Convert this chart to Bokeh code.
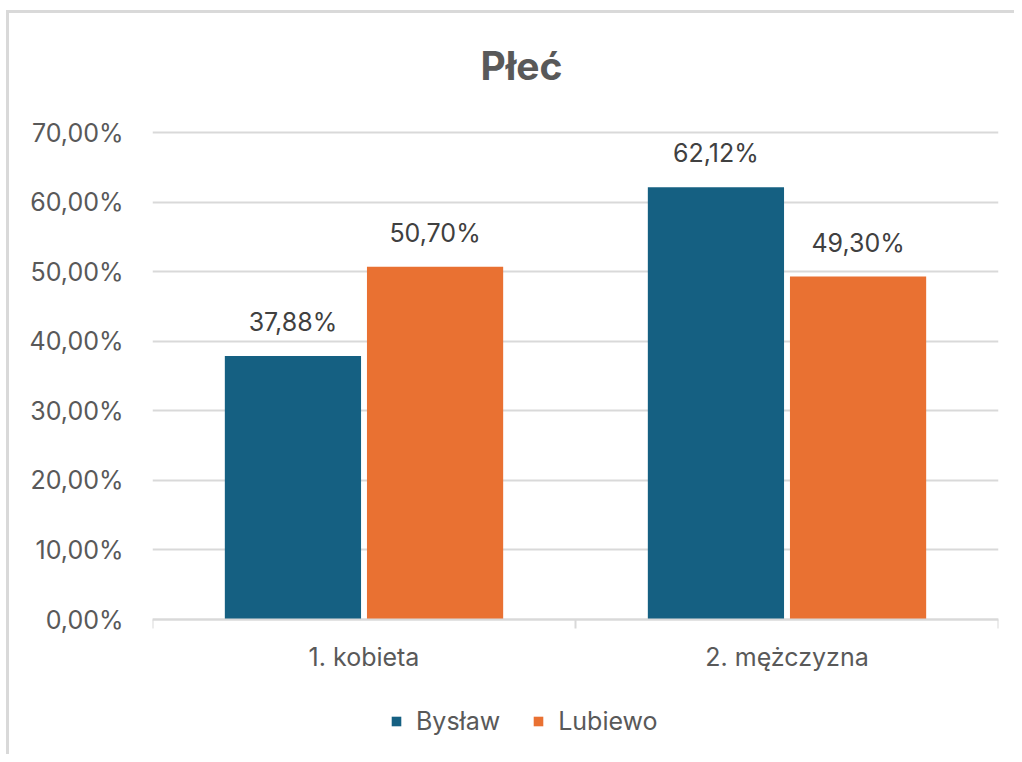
from bokeh.plotting import figure
from bokeh.models import (Range1d, FixedTicker, LinearAxis, ColumnDataSource, LabelSet,
                          Title, Legend, LegendItem, Grid)
from bokeh.transform import dodge
from bokeh.core.properties import value
from bokeh.embed import file_html
from bokeh.resources import INLINE

# ---- data ----
title = "Płeć"
categories = ["1. kobieta", "2. mężczyzna"]
series_names = ["Bysław", "Lubiewo"]
byslaw = [37.88, 62.12]
lubiewo = [50.70, 49.30]
y_ticks = [0, 10, 20, 30, 40, 50, 60, 70]
colors = ["#156082", "#E97132"]


def pct(v):
    return f"{v:.2f}".replace(".", ",") + "%"


FONT = "Inter"
FS = "25px"
TXT = "#595959"
GRID = "#d9d9d9"

# ---- layout constants (pixels) ----
W, H = 1014, 754
LEFT, RIGHT = 152, 16
TOP_TICK_Y = 132                  # pixel row of the 70 % gridline
FRAME_TOP = 128                   # frame a little above it so the top gridline is drawn
ZERO_Y = 619                      # pixel row of the 0 % baseline
px_per_unit = (ZERO_Y - TOP_TICK_Y) / y_ticks[-1]
y_end = y_ticks[-1] + (TOP_TICK_Y - FRAME_TOP) / px_per_unit
y_start = -(H - ZERO_Y) / px_per_unit   # room below the baseline for labels + legend

x = [i + 0.5 for i in range(len(categories))]
src = ColumnDataSource(dict(
    x=x, cat=categories, b=byslaw, l=lubiewo,
    bl=[pct(v) for v in byslaw], ll=[pct(v) for v in lubiewo],
))

p = figure(width=W, height=H, output_backend="svg", toolbar_location=None,
           x_range=Range1d(0, len(categories)), y_range=Range1d(y_start, y_end),
           min_border=0, min_border_left=LEFT, min_border_right=RIGHT,
           min_border_top=FRAME_TOP, min_border_bottom=0,
           x_axis_type=None, y_axis_type=None)
p.outline_line_color = None
p.background_fill_color = "white"
p.border_fill_color = None
p.styles = {
    "background-color": "white",
    "background-image": "linear-gradient(#d9d9d9, #d9d9d9), linear-gradient(#d9d9d9, #d9d9d9)",
    "background-size": "100% 3px, 3px 100%",
    "background-position": "6px 10px, 6px 10px",
    "background-repeat": "no-repeat",
}

# grid
grid = Grid(dimension=1, ticker=FixedTicker(ticks=y_ticks), grid_line_color=GRID, grid_line_width=2)
p.add_layout(grid, "center")

# axes
yaxis = LinearAxis(ticker=FixedTicker(ticks=y_ticks),
                   major_label_overrides={t: pct(t) for t in y_ticks},
                   axis_line_color=None, major_tick_line_color=None, minor_tick_line_color=None,
                   major_tick_out=0, major_tick_in=0, major_label_standoff=29,
                   major_label_text_font=FONT, major_label_text_font_size=FS,
                   major_label_text_color=TXT)
p.add_layout(yaxis, "left")

xaxis = LinearAxis(ticker=FixedTicker(ticks=x, minor_ticks=list(range(len(categories) + 1))),
                   fixed_location=0,
                   major_label_overrides={xi: c for xi, c in zip(x, categories)},
                   axis_line_color=GRID, axis_line_width=2,
                   major_tick_line_color=None, major_tick_out=0, major_tick_in=0,
                   minor_tick_line_color=GRID, minor_tick_line_width=2,
                   minor_tick_out=9, minor_tick_in=0,
                   major_label_standoff=13,
                   major_label_text_font=FONT, major_label_text_font_size=FS,
                   major_label_text_color=TXT)
p.add_layout(xaxis, "below")

# bars
off = 0.168
bw = 0.322
p.vbar(x=dodge("x", -off), top="b", width=bw, source=src, fill_color=colors[0], line_color=None)
p.vbar(x=dodge("x", off), top="l", width=bw, source=src, fill_color=colors[1], line_color=None)

# data labels
for col, lab, o in (("b", "bl", -off), ("l", "ll", off)):
    p.add_layout(LabelSet(x=dodge("x", o), y=col, text=lab, source=src,
                          text_align="center", text_baseline="alphabetic", y_offset=25,
                          text_font=value(FONT), text_font_size=FS, text_color="#404040"))

# legend (size-0 markers so only the legend swatch shows)
sb = p.scatter(x=dodge("x", -off), y="b", source=src, marker="square", size=0,
               fill_color=colors[0], line_color=None)
sl = p.scatter(x=dodge("x", off), y="l", source=src, marker="square", size=0,
               fill_color=colors[1], line_color=None)
legend = Legend(items=[LegendItem(label=series_names[0], renderers=[sb]),
                       LegendItem(label=series_names[1], renderers=[sl])],
                orientation="horizontal", location=(232, 18),
                glyph_width=24, glyph_height=24, label_standoff=8, spacing=26,
                padding=0, margin=0, border_line_color=None, background_fill_alpha=0,
                label_text_font=FONT, label_text_font_size=FS, label_text_color=TXT)
p.add_layout(legend, "center")

# title
p.add_layout(Title(text=title, align="left", offset=328, standoff=79,
                   text_font=FONT, text_font_style="bold", text_font_size="39px",
                   text_color=TXT), "above")

open("out.html", "w").write(file_html(p, INLINE))
